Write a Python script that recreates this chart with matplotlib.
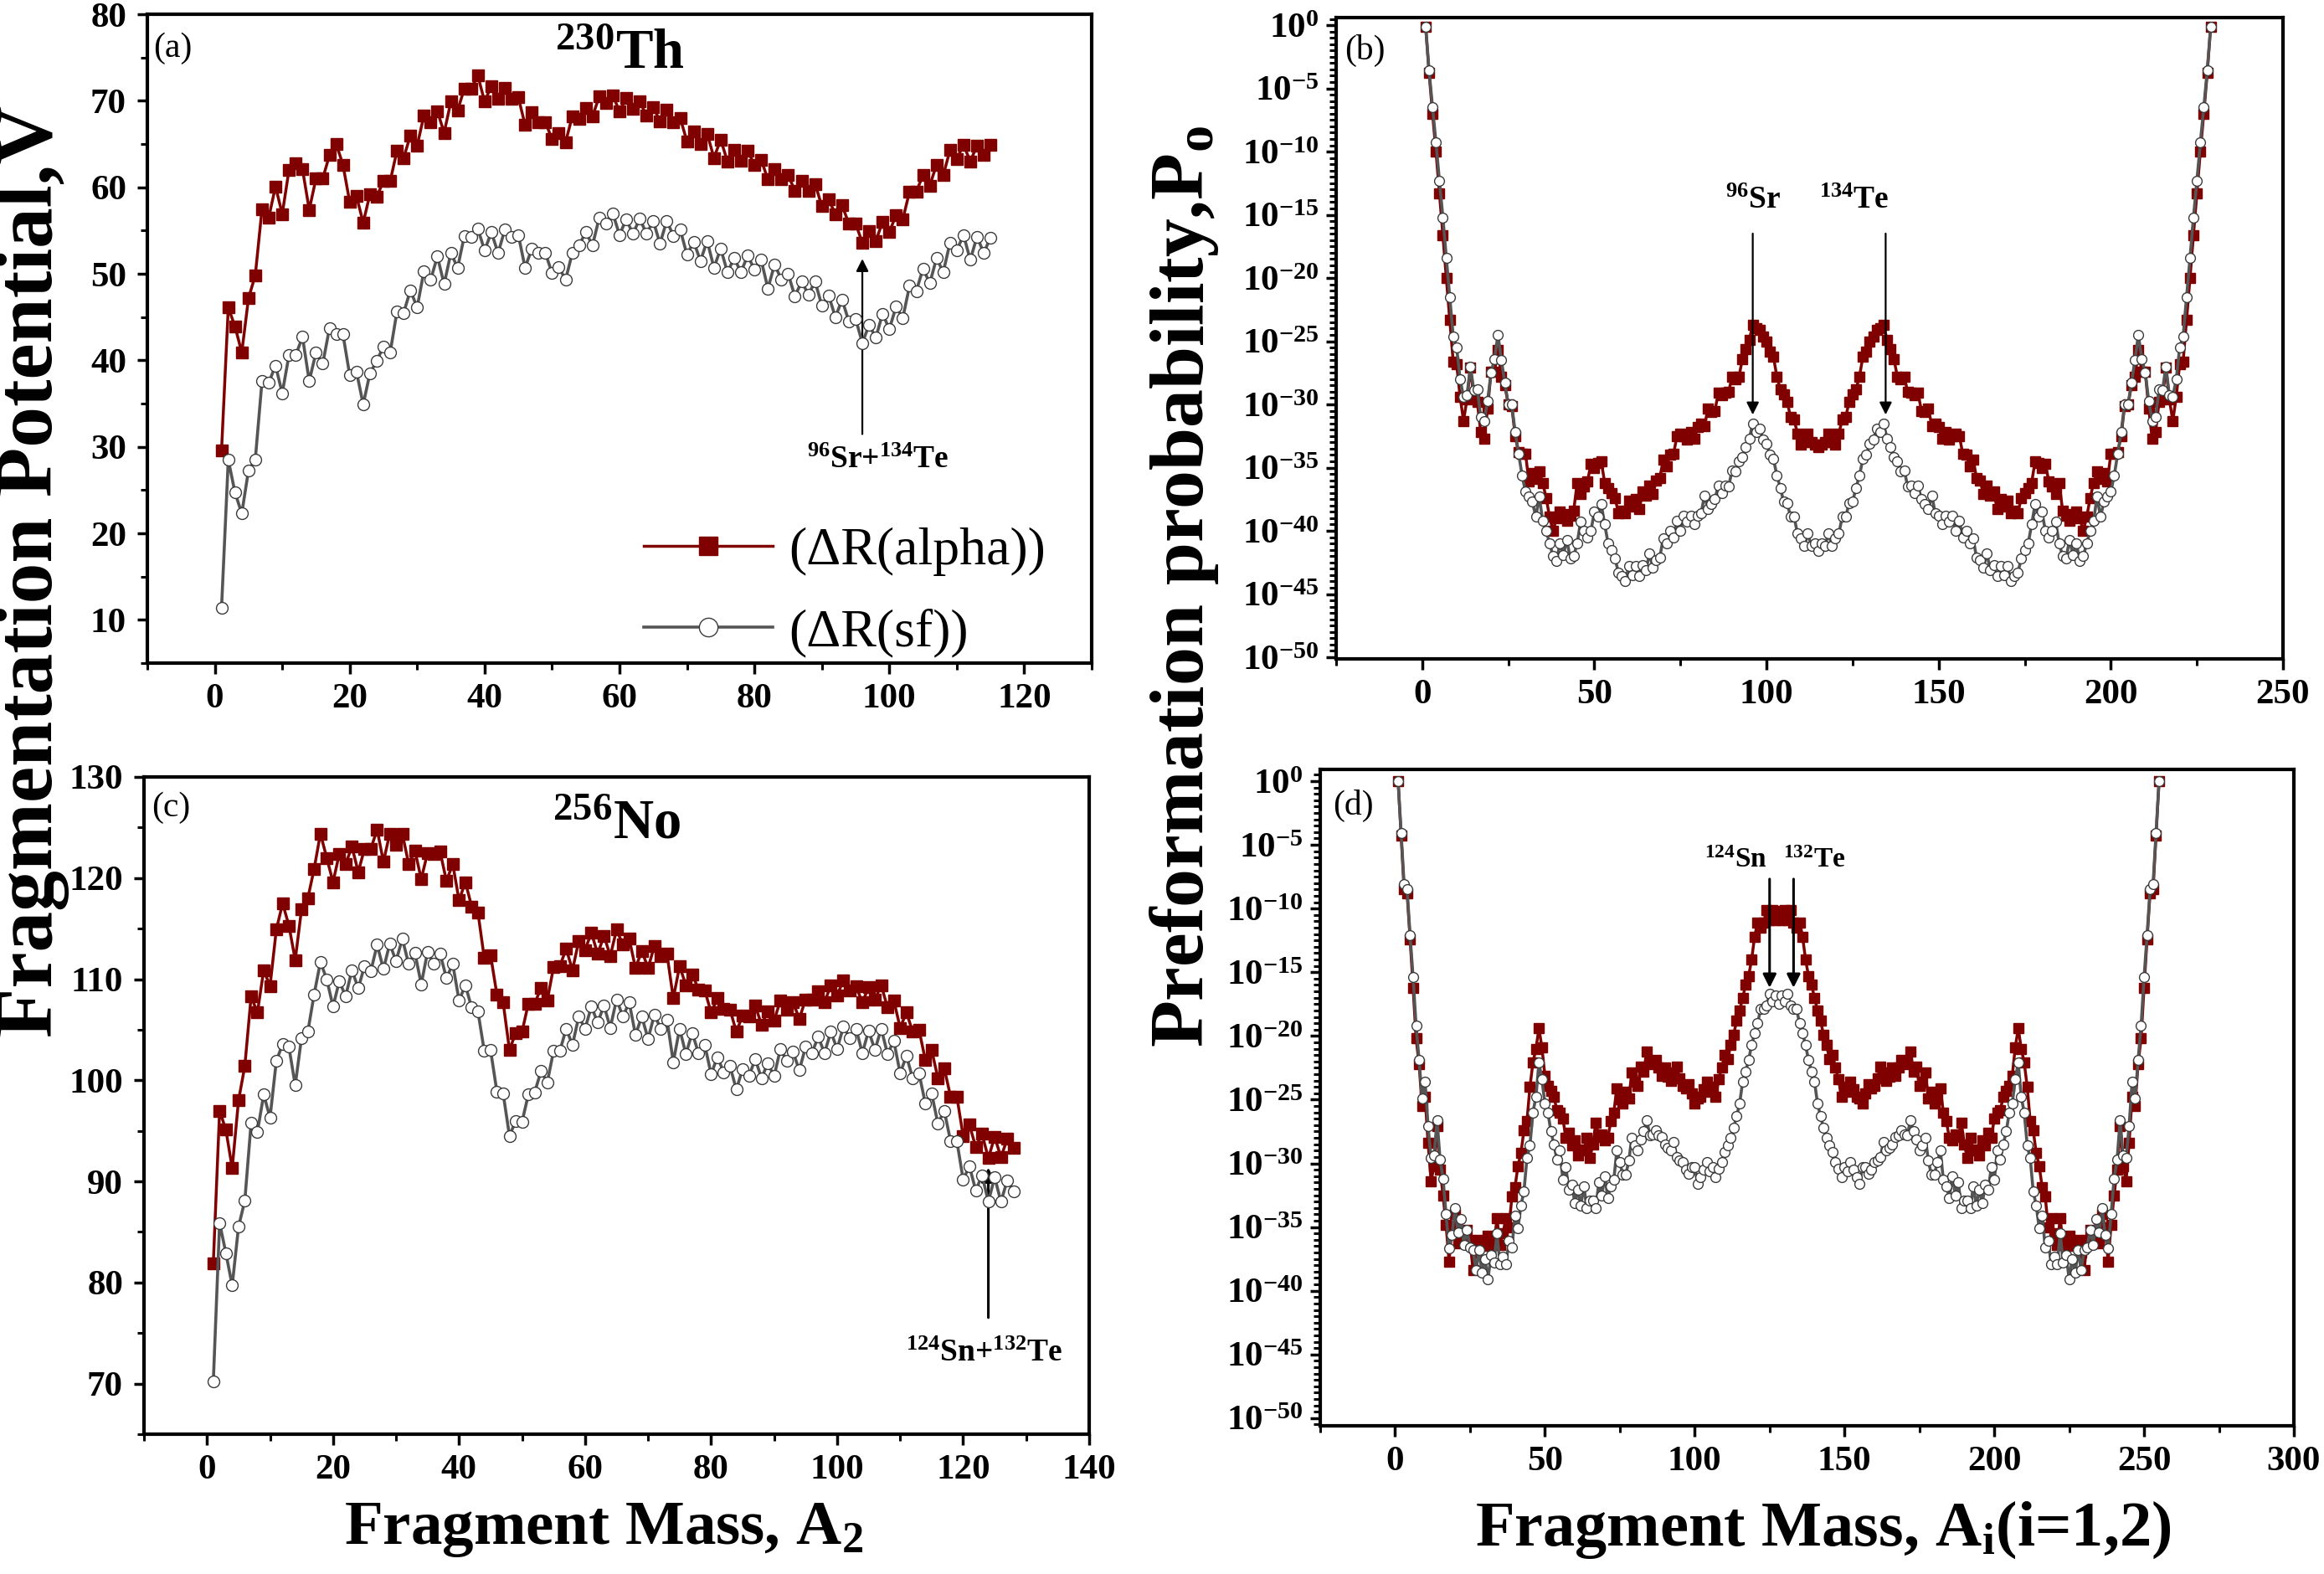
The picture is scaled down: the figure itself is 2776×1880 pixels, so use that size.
import numpy as np
import matplotlib
matplotlib.use('Agg')
import matplotlib.pyplot as plt
from matplotlib.ticker import MultipleLocator, FixedLocator, FuncFormatter, NullFormatter
from matplotlib.font_manager import FontProperties

# ---------------- data ----------------
# (a) 230Th fragmentation potential vs fragment mass A2
th_A2 = list(range(1, 116))
th_V_alpha = [29.6, 46.1, 43.9, 40.9, 47.2, 49.8, 57.5, 56.5, 60.1, 56.9,
              62.0, 62.8, 62.1, 57.4, 61.0, 61.0, 63.7, 65.0, 62.6, 58.3,
              59.0, 55.9, 59.2, 58.9, 60.7, 60.7, 64.2, 63.4, 66.0, 64.8,
              68.3, 67.5, 68.8, 66.3, 69.9, 68.9, 71.4, 71.4, 72.9, 69.9,
              71.7, 70.2, 71.5, 70.2, 70.4, 67.2, 68.7, 67.5, 67.5, 65.6,
              66.3, 65.2, 68.2, 67.9, 69.2, 68.2, 70.5, 69.7, 70.6, 68.8,
              70.3, 69.1, 69.9, 68.3, 69.3, 67.6, 69.0, 67.5, 68.0, 65.3,
              66.5, 65.0, 66.2, 63.4, 65.5, 63.0, 64.3, 63.1, 64.2, 62.6,
              63.2, 60.9, 62.1, 60.9, 61.4, 59.6, 60.7, 59.6, 60.4, 57.8,
              58.6, 56.9, 57.9, 55.8, 55.8, 53.6, 54.9, 53.8, 56.0, 54.8,
              56.8, 56.3, 59.5, 59.5, 61.4, 60.2, 62.6, 61.4, 64.3, 63.3,
              64.9, 63.0, 64.8, 63.7, 64.9]
th_V_sf = [11.4, 28.5, 24.7, 22.3, 27.3, 28.5, 37.6, 37.4, 39.4, 36.2,
           40.6, 40.6, 42.7, 37.6, 40.9, 39.6, 43.7, 43.0, 43.0, 38.3,
           38.7, 34.9, 38.5, 39.9, 41.6, 40.9, 45.6, 45.5, 48.1, 46.1,
           50.3, 49.3, 52.0, 48.8, 52.4, 50.7, 54.4, 54.3, 55.2, 52.7,
           54.8, 52.4, 55.1, 54.3, 54.5, 50.7, 52.9, 52.4, 52.4, 50.1,
           50.8, 49.3, 52.4, 53.3, 54.8, 53.3, 56.5, 55.8, 57.0, 54.5,
           56.3, 54.6, 56.4, 54.6, 56.1, 53.5, 56.1, 54.4, 55.1, 52.2,
           53.7, 51.5, 53.8, 50.7, 52.9, 50.2, 51.8, 50.2, 52.1, 50.5,
           51.6, 48.3, 51.1, 49.3, 50.0, 47.4, 49.1, 47.6, 49.1, 46.3,
           47.5, 45.0, 47.0, 44.5, 44.8, 42.0, 44.1, 42.6, 45.4, 43.6,
           46.2, 44.9, 48.6, 48.0, 50.6, 48.9, 51.8, 50.2, 53.6, 52.7,
           54.5, 51.6, 54.3, 52.4, 54.2]

# (c) 256No fragmentation potential vs fragment mass A2
no_A2 = list(range(1, 129))
no_V_alpha = [81.9, 97.0, 95.1, 91.3, 98.0, 101.4, 108.3, 106.7, 110.9, 109.3,
              114.9, 117.5, 115.3, 111.9, 116.9, 118.0, 120.9, 124.4, 122.0, 119.6,
              122.4, 121.4, 123.1, 120.6, 122.9, 122.9, 124.8, 121.6, 124.4, 123.3,
              124.4, 121.4, 122.7, 119.9, 122.5, 122.4, 122.6, 119.7, 121.4, 117.8,
              119.6, 117.2, 116.6, 112.1, 112.4, 108.5, 107.7, 103.0, 104.7, 104.8,
              107.6, 107.6, 109.1, 107.9, 111.2, 111.3, 113.0, 110.9, 113.8, 112.9,
              114.6, 112.5, 114.3, 112.3, 114.9, 113.4, 114.0, 111.1, 112.8, 111.1,
              113.3, 112.3, 112.5, 108.1, 111.3, 109.4, 110.5, 109.0, 108.9, 106.7,
              108.1, 107.1, 107.0, 104.8, 106.4, 106.3, 107.4, 105.5, 106.8, 105.9,
              107.9, 107.0, 107.7, 106.1, 108.0, 108.0, 108.8, 107.7, 109.4, 108.4,
              109.9, 108.9, 109.3, 107.7, 109.2, 108.0, 109.4, 107.2, 107.9, 105.2,
              106.7, 104.8, 105.0, 102.0, 103.0, 100.2, 101.2, 98.4, 98.4, 94.5,
              95.6, 93.4, 94.7, 92.3, 94.4, 92.4, 94.2, 93.3]
no_V_sf = [70.2, 85.9, 82.9, 79.7, 85.5, 88.1, 95.8, 94.9, 98.6, 96.3,
           101.9, 103.6, 103.3, 99.5, 104.2, 104.8, 108.5, 111.7, 110.0, 107.3,
           109.8, 108.3, 110.9, 109.1, 111.3, 110.8, 113.4, 111.0, 113.5, 111.8,
           114.0, 111.5, 112.6, 109.5, 112.7, 111.5, 112.5, 110.1, 111.5, 107.9,
           109.4, 107.2, 106.8, 102.9, 103.0, 98.9, 98.7, 94.5, 96.0, 95.9,
           98.6, 98.8, 100.9, 99.8, 102.9, 102.9, 105.1, 103.5, 106.3, 105.1,
           107.3, 105.7, 107.4, 105.2, 108.0, 106.3, 107.7, 104.5, 106.3, 104.1,
           106.5, 105.1, 106.0, 101.8, 105.1, 102.6, 104.7, 102.7, 103.5, 100.6,
           102.3, 100.8, 101.4, 99.1, 101.1, 100.4, 102.1, 100.2, 101.7, 100.4,
           103.1, 101.9, 102.8, 101.0, 103.3, 102.7, 104.3, 102.7, 104.8, 103.1,
           105.3, 104.2, 105.1, 102.7, 104.9, 103.0, 105.1, 102.6, 103.9, 100.7,
           102.4, 100.2, 100.7, 97.7, 98.7, 95.7, 97.0, 94.0, 94.0, 90.2,
           91.5, 89.1, 90.6, 88.0, 90.4, 88.0, 90.1, 89.0]

# (b) 230Th preformation probability, log10(P0) for A1 = 1..115
# (P0 is symmetric: A2 = 230 - A1 has the same value)
th_logP_alpha_half = [-0.1, -3.8, -7.0, -10.0, -13.3, -16.6, -20.0, -23.3, -26.6, -26.8,
                      -29.4, -31.3, -29.6, -27.1, -29.5, -29.8, -32.2, -32.7, -30.3, -27.4,
                      -27.4, -25.7, -27.8, -28.5, -30.0, -30.1, -32.5, -33.8, -33.9, -33.9,
                      -36.1, -35.4, -35.9, -35.3, -36.2, -37.4, -38.9, -40.0, -39.0, -38.5,
                      -38.7, -39.2, -38.8, -38.4, -36.2, -37.1, -36.5, -36.1, -34.7, -35.0,
                      -34.6, -34.5, -36.2, -36.6, -37.0, -37.4, -38.6, -38.4, -38.6, -37.6,
                      -38.1, -37.5, -38.3, -36.9, -37.2, -36.4, -37.1, -36.0, -35.8, -34.4,
                      -34.9, -34.0, -33.9, -32.5, -32.3, -32.5, -32.8, -32.2, -32.7, -31.8,
                      -31.5, -31.7, -30.3, -30.6, -30.5, -29.1, -29.3, -29.1, -29.0, -27.8,
                      -28.0, -27.8, -26.4, -25.6, -24.9, -23.7, -24.0, -24.1, -24.6, -25.0,
                      -25.8, -26.2, -27.8, -28.8, -29.2, -29.8, -31.0, -31.2, -32.3, -33.2,
                      -33.0, -32.3, -33.0, -33.2, -33.4]
th_logP_sf_half = [-0.1, -3.6, -6.5, -9.3, -12.3, -15.2, -18.4, -21.5, -24.6, -25.5,
                   -28.0, -29.4, -29.3, -27.0, -28.9, -28.8, -31.0, -31.3, -29.7, -27.5,
                   -26.4, -24.5, -26.5, -28.3, -30.0, -30.0, -32.2, -33.9, -35.6, -36.9,
                   -37.3, -37.7, -38.9, -37.3, -39.2, -40.0, -41.0, -42.0, -42.4, -41.0,
                   -41.9, -40.7, -42.2, -42.0, -41.0, -39.3, -40.0, -40.5, -40.0, -38.5,
                   -38.9, -37.9, -39.5, -41.0, -41.5, -42.2, -43.3, -43.6, -44.0, -42.8,
                   -43.5, -42.8, -43.6, -42.7, -43.1, -41.8, -42.9, -42.3, -42.1, -40.6,
                   -41.0, -40.0, -40.5, -39.2, -40.0, -38.8, -39.3, -38.8, -39.5, -38.8,
                   -38.6, -37.2, -38.3, -37.9, -37.5, -36.4, -37.0, -36.4, -36.5, -35.2,
                   -35.3, -34.5, -34.2, -33.4, -32.7, -31.5, -32.2, -31.9, -32.8, -33.1,
                   -34.0, -34.3, -35.6, -36.6, -37.7, -37.8, -38.9, -38.9, -40.2, -40.6,
                   -41.2, -40.2, -41.2, -41.0, -41.6]

# (d) 256No preformation probability, log10(P0) for A1 = 1..128 (symmetric about 128)
no_logP_alpha_half = [0.0, -4.3, -8.5, -8.8, -12.4, -16.2, -20.2, -22.2, -25.5, -24.8,
                      -28.4, -31.4, -30.2, -27.1, -30.5, -32.5, -34.8, -37.7, -35.0, -34.0,
                      -36.3, -35.7, -36.0, -35.2, -36.0, -38.4, -37.0, -36.0, -36.4, -36.5,
                      -35.7, -36.0, -36.4, -34.3, -36.4, -35.5, -34.3, -35.0, -32.6, -31.9,
                      -30.2, -29.2, -27.4, -26.7, -24.0, -22.1, -21.0, -19.4, -20.9, -23.1,
                      -23.9, -24.3, -24.8, -25.8, -26.0, -26.5, -28.0, -27.6, -28.6, -28.2,
                      -29.4, -28.9, -29.0, -28.0, -29.6, -28.5, -26.8, -27.9, -27.7, -28.2,
                      -28.0, -26.7, -26.0, -24.1, -25.0, -25.3, -24.4, -24.9, -22.9, -23.6,
                      -23.9, -22.4, -22.8, -21.2, -22.0, -22.2, -21.9, -22.5, -23.1, -22.5,
                      -23.2, -23.5, -22.9, -22.4, -23.3, -23.9, -24.1, -23.8, -24.5, -25.3,
                      -24.9, -24.8, -24.2, -23.6, -24.4, -24.0, -24.8, -23.4, -22.5, -21.5,
                      -21.8, -20.7, -19.9, -18.8, -18.0, -17.0, -16.0, -15.3, -14.0, -12.2,
                      -11.1, -11.5, -11.1, -10.1, -10.9, -10.1, -10.9, -10.2]
no_logP_sf_half = [0.0, -4.1, -8.1, -8.5, -12.1, -15.4, -19.2, -21.9, -24.9, -23.6,
                   -27.1, -29.6, -29.4, -26.6, -29.7, -31.2, -34.0, -36.7, -35.6, -33.5,
                   -35.4, -34.4, -36.4, -35.2, -36.6, -36.8, -38.4, -36.8, -38.6, -37.5,
                   -39.1, -37.2, -37.8, -35.5, -37.9, -37.3, -37.9, -36.1, -36.6, -34.1,
                   -35.1, -33.3, -32.2, -29.6, -28.6, -26.0, -24.8, -22.1, -23.4, -25.3,
                   -26.0, -27.5, -28.5, -29.7, -29.0, -31.3, -30.3, -32.1, -31.7, -33.1,
                   -32.1, -33.3, -31.8, -33.5, -32.9, -32.9, -33.5, -31.5, -32.5, -31.0,
                   -32.7, -31.8, -31.3, -29.0, -29.9, -30.9, -30.9, -29.8, -28.0, -28.6,
                   -29.0, -28.1, -27.5, -26.6, -27.8, -27.7, -27.4, -27.8, -27.9, -28.5,
                   -28.8, -29.0, -28.3, -29.5, -29.8, -29.9, -30.5, -30.8, -30.3, -30.3,
                   -31.6, -31.1, -30.5, -29.9, -30.6, -30.3, -31.1, -30.4, -29.9, -29.1,
                   -28.6, -28.0, -27.2, -26.3, -25.3, -23.6, -22.8, -21.9, -20.7, -19.8,
                   -19.0, -17.9, -17.9, -17.6, -16.7, -17.3, -16.8, -17.5]

th_A_all = list(range(1, 230))
no_A_all = list(range(1, 256))
th_logP_alpha = th_logP_alpha_half + th_logP_alpha_half[-2::-1]
th_logP_sf = th_logP_sf_half + th_logP_sf_half[-2::-1]
no_logP_alpha = no_logP_alpha_half + no_logP_alpha_half[-2::-1]
no_logP_sf = no_logP_sf_half + no_logP_sf_half[-2::-1]

labels = ['(\u0394R(alpha))', '(\u0394R(sf))']

# ---------------- style ----------------
plt.rcParams.update({
    'font.family': ['Liberation Serif', 'DejaVu Serif'],
    'font.weight': 'bold',
    'mathtext.fontset': 'custom',
    'mathtext.rm': 'Liberation Serif:bold',
    'mathtext.bf': 'Liberation Serif:bold',
    'mathtext.it': 'Liberation Serif:bold:italic',
    'mathtext.default': 'rm',
    'axes.linewidth': 3.0,
})

RED = '#800000'
GREY = '#555555'
W, H = 2776, 1880
fig = plt.figure(figsize=(W / 100, H / 100), dpi=100)


def box(l, t, r, b):
    return [l / W, 1 - b / H, (r - l) / W, (b - t) / H]


axA = fig.add_axes(box(176, 17, 1304, 792))
axC = fig.add_axes(box(172, 928, 1301, 1713))
axB = fig.add_axes(box(1596, 21, 2727, 787))
axD = fig.add_axes(box(1577, 919, 2740, 1703))


def draw(ax, x, ya, ys, log=False, ms=10):
    if log:
        ya = 10.0 ** np.array(ya)
        ys = 10.0 ** np.array(ys)
    ax.plot(x, ya, color=RED, lw=2.5, marker='s', ms=ms, mfc=RED, mec=RED,
            mew=1, label=labels[0], zorder=3)
    ax.plot(x, ys, color=GREY, lw=2.6, marker='o', ms=ms, mfc='white',
            mec='#3a3a3a', mew=1, label=labels[1], zorder=4)
    if log:
        ax.set_yscale('log')


draw(axA, th_A2, th_V_alpha, th_V_sf)
draw(axC, no_A2, no_V_alpha, no_V_sf)
draw(axB, th_A_all, th_logP_alpha, th_logP_sf, log=True, ms=8.5)
draw(axD, no_A_all, no_logP_alpha, no_logP_sf, log=True, ms=8.5)

# limits & ticks
axA.set_xlim(-10, 130); axA.set_ylim(5, 80)
axC.set_xlim(-10, 140); axC.set_ylim(65, 130)
for ax in (axA, axC):
    ax.xaxis.set_major_locator(MultipleLocator(20))
    ax.xaxis.set_minor_locator(MultipleLocator(10))
    ax.yaxis.set_major_locator(MultipleLocator(10))
    ax.yaxis.set_minor_locator(MultipleLocator(5))

axB.set_xlim(-25, 250); axB.set_ylim(10 ** -50.13, 10 ** 0.6)
axD.set_xlim(-25, 300); axD.set_ylim(10 ** -50.6, 10 ** 0.92)
for ax in (axB, axD):
    ax.xaxis.set_major_locator(MultipleLocator(50))
    ax.xaxis.set_minor_locator(MultipleLocator(25))
    ax.yaxis.set_major_locator(FixedLocator(10.0 ** np.arange(-50, 1, 5)))
    ax.yaxis.set_minor_locator(FixedLocator(10.0 ** np.arange(-50.5, 1.0, 0.5)))
    ax.yaxis.set_major_formatter(FuncFormatter(
        lambda v, p: r'$\mathbf{10^{%d}}$' % int(round(np.log10(v)))))
    ax.yaxis.set_minor_formatter(NullFormatter())

for ax in (axA, axB, axC, axD):
    ax.tick_params(which='major', direction='out', length=9, width=2.5,
                   labelsize=31, pad=8)
    ax.tick_params(which='minor', direction='out', length=5.5, width=2.2)
    ax.tick_params(axis='y', which='major', pad=9)
    for sp in ax.spines.values():
        sp.set_linewidth(3.0)
    for t in ax.get_xticklabels() + ax.get_yticklabels():
        t.set_fontweight('bold')
for ax in (axB, axD):
    ax.tick_params(axis='y', which='major', pad=6)

# panel labels
for ax, lab, xf, yf in ((axA, '(a)', 0.006, 0.948), (axB, '(b)', 0.009, 0.949),
                        (axC, '(c)', 0.008, 0.953), (axD, '(d)', 0.013, 0.945)):
    ax.text(xf, yf, lab, transform=ax.transAxes, ha='left', va='center',
            fontsize=30, fontweight='normal')

# nucleus titles
axA.text(0.5, 0.916, r'$^{230}$Th', transform=axA.transAxes, ha='center',
         va='baseline', fontsize=48, fontweight='bold')
axC.text(0.5, 0.906, r'$^{256}$No', transform=axC.transAxes, ha='center',
         va='baseline', fontsize=48, fontweight='bold')

# annotations
arw = dict(arrowstyle='-|>', color='black', lw=1.6, mutation_scale=22)
axA.annotate('', xy=(96, 52.0), xytext=(96, 31.2), arrowprops=arw)
axA.text(98.3, 28.5, r'$^{96}$Sr+$^{134}$Te', ha='center', va='center', fontsize=27)
axC.annotate('', xy=(124, 91.6), xytext=(124, 76.3),
             arrowprops=dict(arrowstyle='-|>', color='black', lw=2.2, mutation_scale=26))
axC.text(123.3, 73.0, r'$^{124}$Sn+$^{132}$Te', ha='center', va='center', fontsize=27)

axB.annotate('', xy=(96, 10 ** -31.0), xytext=(96, 10 ** -16.3), arrowprops=arw)
axB.annotate('', xy=(134.6, 10 ** -31.0), xytext=(134.6, 10 ** -16.3), arrowprops=arw)
axB.text(96, 10 ** -13.9, r'$^{96}$Sr', ha='center', va='center', fontsize=27)
axB.text(135.5, 10 ** -13.9, r'$^{134}$Te', ha='right', va='center', fontsize=27)

arw2 = dict(arrowstyle='-|>', color='black', lw=2.2, mutation_scale=24)
axD.annotate('', xy=(125, 10 ** -16.4), xytext=(125, 10 ** -7.5), arrowprops=arw2)
axD.annotate('', xy=(133, 10 ** -16.4), xytext=(133, 10 ** -7.5), arrowprops=arw2)
axD.text(124.2, 10 ** -6.2, r'$^{124}$Sn', ha='right', va='center', fontsize=24)
axD.text(129.5, 10 ** -6.2, r'$^{132}$Te', ha='left', va='center', fontsize=24)

# legend
axA.legend(loc='lower left', bbox_to_anchor=(0.526, 0.009), frameon=False,
           prop=FontProperties(family='Liberation Serif', weight='normal', size=46),
           handlelength=2.4, handletextpad=0.3, labelspacing=0.6,
           borderpad=0.0, borderaxespad=0.0, markerscale=1.6)

# axis labels
fig.text(39 / W, 1 - 682 / H, 'Fragmentation Potential,V', rotation=90,
         ha='center', va='center', fontsize=70, fontweight='bold')
fig.text(1414 / W, 1 - 700 / H, r'Preformation probability,P$_\mathrm{o}$', rotation=90,
         ha='center', va='center', fontsize=66, fontweight='bold')
fig.text(721 / W, 1 - 1827 / H, r'Fragment Mass, A$_2$', ha='center', va='center',
         fontsize=54, fontweight='bold')
fig.text(2178 / W, 1 - 1827 / H, r'Fragment Mass, A$_\mathrm{i}$(i=1,2)', ha='center',
         va='center', fontsize=55, fontweight='bold')

fig.savefig('out.png', dpi=100)
